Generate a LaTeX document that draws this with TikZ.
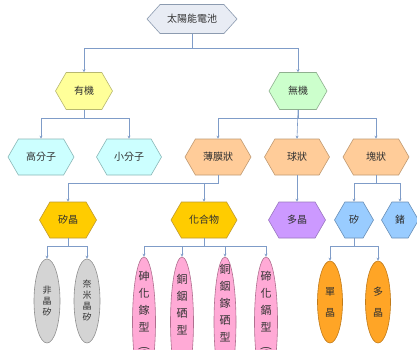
\documentclass[tikz,border=0pt]{standalone}
\usepackage{fontspec}
\setmainfont{Noto Sans CJK TC}
\usepackage{graphicx}
\usetikzlibrary{shapes.symbols,shapes.geometric,arrows.meta}
\definecolor{conncol}{HTML}{7F9CC8}
\definecolor{txtcol}{HTML}{303030}
\definecolor{rootF}{HTML}{E8ECF4}\definecolor{rootD}{HTML}{8C9BB0}
\definecolor{yelF}{HTML}{FFFF99}\definecolor{yelD}{HTML}{B8B870}
\definecolor{grnF}{HTML}{CCFFCC}\definecolor{grnD}{HTML}{8FB08F}
\definecolor{cyaF}{HTML}{CCFFFF}\definecolor{cyaD}{HTML}{8AB8B8}
\definecolor{oraF}{HTML}{FFCC99}\definecolor{oraD}{HTML}{C09A72}
\definecolor{goldF}{HTML}{FFCC00}\definecolor{goldD}{HTML}{C09A30}
\definecolor{purF}{HTML}{CC99FF}\definecolor{purD}{HTML}{9A78C0}
\definecolor{bluF}{HTML}{99CCFF}\definecolor{bluD}{HTML}{6A90B8}
\definecolor{gryF}{HTML}{D4D4D4}\definecolor{gryD}{HTML}{909090}
\definecolor{pnkF}{HTML}{FFAAD6}\definecolor{pnkD}{HTML}{B07090}
\definecolor{orgF}{HTML}{FFA526}\definecolor{orgD}{HTML}{C07A18}
\newcommand{\pinkstack}[2]{\raisebox{#1}[0pt][0pt]{\makebox[0pt]{\parbox[t]{16pt}{\centering #2}}}}
\tikzset{
  hexbox/.style={signal, signal to=west and east, signal pointer angle=120,
    draw, line width=0.6pt, inner sep=0pt, text=txtcol,
    font=\fontsize{10}{12}\selectfont},
  ellbox/.style={ellipse, draw, line width=0.6pt, inner sep=0pt, text=txtcol,
    align=center},
  pinkell/.style={ellbox, pnk, minimum width=23pt, minimum height=130pt,
    font=\fontsize{11}{17}\selectfont},
  conn/.style={draw=conncol, line width=0.6pt, -{Stealth[length=3pt,width=3pt]}},
  rootc/.style={fill=rootF, draw=rootD},
  yel/.style={fill=yelF, draw=yelD},
  grn/.style={fill=grnF, draw=grnD},
  cya/.style={fill=cyaF, draw=cyaD},
  ora/.style={fill=oraF, draw=oraD},
  gold/.style={fill=goldF, draw=goldD},
  pur/.style={fill=purF, draw=purD},
  blu/.style={fill=bluF, draw=bluD},
  gry/.style={fill=gryF, draw=gryD},
  pnk/.style={fill=pnkF, draw=pnkD},
  org/.style={fill=orgF, draw=orgD},
}
\begin{document}
\begin{tikzpicture}[x=1pt,y=-1pt]
\useasboundingbox (0,0) rectangle (417,349);
\clip (0,0) rectangle (417,349);
\fill[white] (0,0) rectangle (417,349);
% level 0
\node[hexbox, rootc, minimum width=90pt, minimum height=29pt, signal pointer angle=96] (root) at (192,19) {太陽能電池};
% level 1
\node[hexbox, yel, minimum width=57pt, minimum height=37pt] (youji) at (84,91) {有機};
\node[hexbox, grn, minimum width=58pt, minimum height=37pt] (wuji) at (298,91) {無機};
% level 2
\node[hexbox, cya, minimum width=66pt, minimum height=36pt] (gfz) at (41,157) {高分子};
\node[hexbox, cya, minimum width=65pt, minimum height=36pt] (xfz) at (129,157) {小分子};
\node[hexbox, ora, minimum width=66pt, minimum height=36pt] (bmz) at (218,157) {薄膜狀};
\node[hexbox, ora, minimum width=65pt, minimum height=36pt] (qz) at (297,157) {球狀};
\node[hexbox, ora, minimum width=66pt, minimum height=36pt] (kz) at (376,157) {塊狀};
% level 3
\node[hexbox, gold, minimum width=57pt, minimum height=36pt] (gj) at (68,220) {矽晶};
\node[hexbox, gold, minimum width=66pt, minimum height=36pt] (hhw) at (204,220) {化合物};
\node[hexbox, pur, minimum width=57pt, minimum height=36pt] (dj) at (297,220) {多晶};
\node[hexbox, blu, minimum width=39pt, minimum height=36pt] (gui) at (354,220) {矽};
\node[hexbox, blu, minimum width=37pt, minimum height=36pt] (zhe) at (400,220) {鍺};
% level 4
\node[ellbox, gry, minimum width=26pt, minimum height=84pt, font=\fontsize{9}{11}\selectfont] (fjg) at (47,301) {非\\晶\\矽};
\node[ellbox, gry, minimum width=26pt, minimum height=84pt, font=\fontsize{9}{11}\selectfont] (nmjg) at (87,301) {奈\\米\\晶\\矽};
\node[pinkell] (gaas) at (144,322)
  {\pinkstack{42pt}{砷\\化\\鎵\\型\\[-2pt]\rotatebox{-90}{(GaAs)}}};
\node[pinkell] (cis) at (182,322)
  {\pinkstack{39pt}{銅\\銦\\硒\\型\\[-2pt]\rotatebox{-90}{(CIS)}}};
\node[pinkell, minimum width=22pt] (cigs) at (225,322)
  {\pinkstack{49pt}{銅\\銦\\鎵\\硒\\型\\[-2pt]\rotatebox{-90}{(CIGS)}}};
\node[pinkell] (cdte) at (266,322)
  {\pinkstack{42pt}{碲\\化\\鎘\\型\\[-2pt]\rotatebox{-90}{(CdTe)}}};
\node[ellbox, org, minimum width=25pt, minimum height=82pt, font=\fontsize{10}{21}\selectfont] (dan) at (330,302) {單\\晶};
\node[ellbox, org, minimum width=25pt, minimum height=82pt, font=\fontsize{10}{21}\selectfont] (duo) at (378,302) {多\\晶};
% connectors
\draw[conn] (root.south) -- ++(0,14.5) -| (youji.north);
\draw[conn] (root.south) -- ++(0,14.5) -| (wuji.north);
\draw[conn] (youji.south) -- ++(0,8.5) -| (gfz.north);
\draw[conn] (youji.south) -- ++(0,8.5) -| (xfz.north);
\draw[conn] (wuji.south) -- ++(0,8.5) -| (bmz.north);
\draw[conn] (wuji.south) -- (qz.north);
\draw[conn] (wuji.south) -- ++(0,8.5) -| (kz.north);
\draw[conn] (bmz.south) -- ++(0,8) -| (gj.north);
\draw[conn] (bmz.south) -- ++(0,8) -| (hhw.north);
\draw[conn] (qz.south) -- (dj.north);
\draw[conn] (kz.south) -- ++(0,8) -| (gui.north);
\draw[conn] (kz.south) -- ++(0,8) -| (zhe.north);
\draw[conn] (gj.south) -- ++(0,8) -| (fjg.north);
\draw[conn] (gj.south) -- ++(0,8) -| (nmjg.north);
\draw[conn] (hhw.south) -- ++(0,8) -| (gaas.north);
\draw[conn] (hhw.south) -- ++(0,8) -| (cis.north);
\draw[conn] (hhw.south) -- ++(0,8) -| (cigs.north);
\draw[conn] (hhw.south) -- ++(0,8) -| (cdte.north);
\draw[conn] (gui.south) -- ++(0,8) -| (dan.north);
\draw[conn] (gui.south) -- ++(0,8) -| (duo.north);
\end{tikzpicture}
\end{document}
